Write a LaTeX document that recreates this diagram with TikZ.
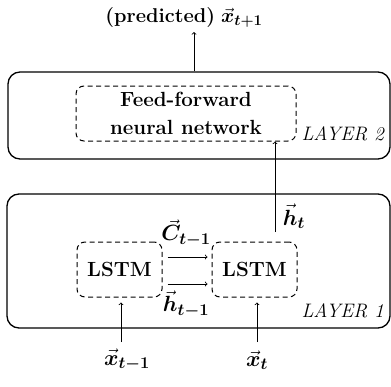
\RequirePackage{fix-cm}
\documentclass[tikz,border=0pt]{standalone}
\usepackage{bm}
\DeclareMathSizes{22}{22}{16.5}{12}
\DeclareMathSizes{20}{20}{15}{11}
\begin{document}
\begin{tikzpicture}[x=1pt,y=-1pt,layer/.style={draw=black,line width=1.3pt,rounded corners=12pt,inner sep=0pt},unit/.style={draw=black,dash pattern=on 5pt off 3.5pt,line width=1pt,rounded corners=8pt,inner sep=0pt,align=center,font=\fontsize{20.5}{28}\selectfont\bfseries},lab/.style={font=\fontsize{22}{24}\selectfont},layname/.style={anchor=base west,font=\fontsize{19.5}{22}\selectfont\itshape},flow/.style={->,line width=0.8pt}]
\def\wl{85};
\def\hl{55};
\def\dup{12.5};
\def\ddn{-14.5};

\useasboundingbox (0,0) rectangle (391,386);

\node[layer,minimum width=382,minimum height=87] (L2) at (199,115.5) {};
\node[layer,minimum width=383,minimum height=134] (L1) at (198.5,261) {};
\node[unit,minimum width=220,minimum height=\hl] (FF) at (186,113.5) {Feed-forward\\neural network};
\node[unit,minimum width=\wl,minimum height=\hl] (M1) at (119.5,269.5) {LSTM};
\node[unit,minimum width=\wl,minimum height=\hl] (M2) at (254.5,269.5) {LSTM};
\node[layname] (N2) at (298,140) {LAYER 2};
\node[layname] (N1) at (298,317) {LAYER 1};

\node[lab] (P) at (184,18) {\fontsize{20}{24}\selectfont\textbf{(predicted)} $\vec{\bm{x}}_{\bm{t+1}}$};
\node[lab] (C) at (186,233) {$\vec{\bm{C}}_{\bm{t-1}}$};
\node[lab] (H) at (186,304) {$\vec{\bm{h}}_{\bm{t-1}}$};
\node[lab] (HT) at (294,216) {$\vec{\bm{h}}_{\bm{t}}$};
\node[lab] (XA) at (127,360) {$\vec{\bm{x}}_{\bm{t-1}}$};
\node[lab] (XB) at (257,360) {$\vec{\bm{x}}_{\bm{t}}$};

\coordinate (out) at (194,32);
\coordinate (hs) at (275,232);
\coordinate (ia) at (121,342);
\coordinate (ib) at (257,342);

\draw[flow] (out |- L2.north) -- (out);
\draw[flow] (hs) -- (hs |- FF.south);
\draw[flow,shorten <=5pt,shorten >=4pt] ([yshift=\dup]M1.east) -- ([yshift=\dup]M2.west);
\draw[flow,shorten <=5pt,shorten >=4pt] ([yshift=\ddn]M1.east) -- ([yshift=\ddn]M2.west);
\draw[flow,shorten >=5pt] (ia) -- (ia |- M1.south);
\draw[flow,shorten >=5pt] (ib) -- (ib |- M2.south);
\end{tikzpicture}
\end{document}
